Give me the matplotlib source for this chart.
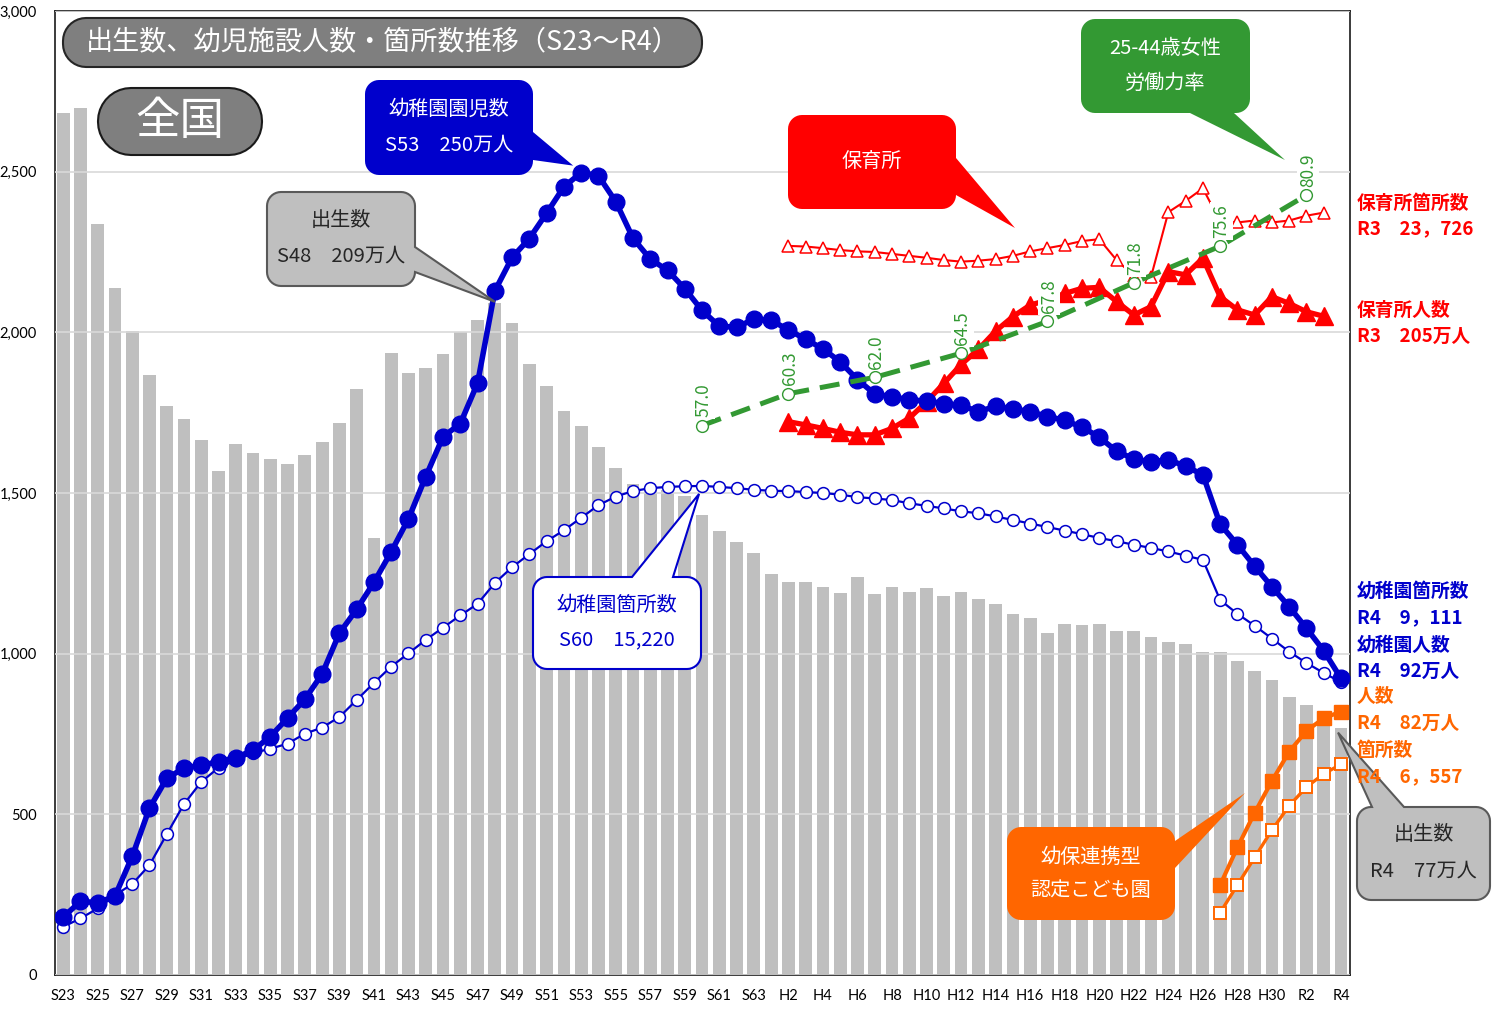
import numpy as np
import matplotlib
matplotlib.use("Agg")
import matplotlib.pyplot as plt
from matplotlib.patches import Polygon

plt.rcParams['font.family'] = ['Noto Sans CJK JP', 'DejaVu Sans']

W, H = 1498, 1011

# ---- categories: fiscal years S23 (1948) .. R4 (2022) ----
era_labels = ([f"S{n}" for n in range(23, 64)] +
              [f"H{n}" for n in range(1, 31)] +
              [f"R{n}" for n in range(1, 5)])

# births (thousand people)
births = [2682, 2697, 2338, 2138, 2005, 1868, 1770, 1731, 1665, 1567,
          1653, 1626, 1606, 1589, 1619, 1660, 1717, 1824, 1361, 1936,
          1872, 1890, 1934, 2001, 2039, 2092, 2030, 1901, 1833, 1755,
          1709, 1643, 1577, 1529, 1515, 1509, 1490, 1432, 1383, 1347,
          1314, 1247, 1222, 1223, 1209, 1188, 1238, 1187, 1207, 1192,
          1203, 1178, 1191, 1171, 1154, 1124, 1111, 1063, 1093, 1090,
          1091, 1070, 1071, 1051, 1037, 1030, 1004, 1006, 977, 946,
          918, 865, 841, 812, 770]

# kindergarten enrolment (thousand children)
kinder_children = [180, 229, 225, 245, 369, 519, 612, 644, 652, 664,
                   676, 700, 742, 800, 858, 937, 1064, 1138, 1222, 1317,
                   1420, 1551, 1675, 1716, 1842, 2129, 2233, 2292, 2371, 2453,
                   2497, 2487, 2407, 2293, 2228, 2193, 2136, 2068, 2019, 2016,
                   2041, 2037, 2008, 1978, 1949, 1908, 1853, 1808, 1799, 1790,
                   1786, 1778, 1773, 1753, 1770, 1761, 1753, 1738, 1726, 1705,
                   1674, 1630, 1606, 1596, 1604, 1583, 1557, 1403, 1339, 1272,
                   1208, 1146, 1079, 1009, 923]

# number of kindergartens (units of 10)
kinder_sites = [150, 176, 207, 248, 283, 342, 438, 532, 601, 645,
                668, 691, 704, 720, 751, 770, 803, 856, 909, 960,
                1001, 1043, 1081, 1119, 1155, 1220, 1269, 1310, 1350, 1384,
                1423, 1462, 1489, 1506, 1515, 1519, 1521, 1522, 1519, 1515,
                1510, 1507, 1506, 1503, 1500, 1495, 1487, 1483, 1478, 1468,
                1460, 1452, 1443, 1437, 1427, 1416, 1405, 1394, 1383, 1372,
                1360, 1350, 1339, 1329, 1318, 1305, 1292, 1167, 1124, 1087,
                1047, 1006, 971, 940, 911.1]

# nursery schools H2..R3 (sites in units of 10, children in thousands)
nursery_sites = [None] * 42 + [
    2269, 2267, 2262, 2256, 2252, 2250, 2244, 2238, 2232, 2225,
    2220, 2223, 2228, 2238, 2252, 2262, 2272, 2284, 2290, 2225,
    2176, 2173, 2374, 2409, 2448, 2345, 2342, 2348, 2342, 2348,
    2363, 2372.6] + [None]
nursery_children = [None] * 42 + [
    1722, 1712, 1701, 1689, 1681, 1681, 1701, 1733, 1784, 1841,
    1900, 1947, 2004, 2049, 2085, 2100, 2121, 2137, 2140, 2096,
    2054, 2080, 2189, 2179, 2231, 2111, 2070, 2054, 2111, 2090,
    2064, 2050] + [None]

# integrated kindergarten-nursery centres H27..R4
kodomoen_children = [None] * 67 + [280, 397, 505, 604, 695, 760, 799, 820]
kodomoen_sites = [None] * 67 + [194, 280, 366, 451, 527, 585, 626, 655.7]

# labour force participation rate of women aged 25-44 (%)
labor_years = ['S60', 'H2', 'H7', 'H12', 'H17', 'H22', 'H27', 'R2']
labor_rate = [57.0, 60.3, 62.0, 64.5, 67.8, 71.8, 75.6, 80.9]


def arr(v):
    return np.array([np.nan if a is None else a for a in v], dtype=float)


x = np.arange(len(era_labels))
BLUE = '#0000CC'
RED = '#FF0000'
ORANGE = '#FF6600'
GREEN = '#339933'

fig = plt.figure(figsize=(W / 100, H / 100), dpi=100)
ax = fig.add_axes([55 / W, (H - 975) / H, (1350 - 55) / W, (975 - 11) / H])

ax.bar(x, births, width=0.74, color='#BFBFBF', zorder=1)

ax.plot(x, arr(kinder_sites), color=BLUE, lw=1.6, marker='o', ms=8.5,
        mfc='white', mec=BLUE, mew=1.1, zorder=3)
ax.plot(x, arr(nursery_sites), color=RED, lw=1.5, marker='^', ms=8,
        mfc='white', mec=RED, mew=1.1, zorder=3.2)
ax.plot(x, arr(nursery_children), color=RED, lw=3.8, marker='^', ms=12.5,
        mfc=RED, mec=RED, zorder=3.4)
ax.plot(x, arr(kinder_children), color=BLUE, lw=4, marker='o', ms=12,
        mfc=BLUE, mec=BLUE, zorder=4)
ax.plot(x, arr(kodomoen_sites), color=ORANGE, lw=2.4, marker='s', ms=8.5,
        mfc='white', mec=ORANGE, mew=1.4, zorder=4.5)
ax.plot(x, arr(kodomoen_children), color=ORANGE, lw=3, marker='s', ms=9.5,
        mfc=ORANGE, mec=ORANGE, zorder=4.6)

ax.set_xlim(-0.47, 74.52)
ax.set_ylim(0, 3000)
ax.set_yticks(range(0, 3001, 500))
ax.set_yticklabels([f"{v:,}" for v in range(0, 3001, 500)],
                   fontfamily=['Lato', 'DejaVu Sans'], fontsize=10.5)
ax.set_xticks(x[::2])
ax.set_xticklabels(era_labels[::2], fontfamily=['Lato', 'DejaVu Sans'],
                   fontsize=10.5)
ax.tick_params(axis='y', length=0, pad=13)
ax.tick_params(axis='x', length=0, pad=10)
ax.set_axisbelow(False)
ax.yaxis.grid(True, color='#D9D9D9', lw=1.2)
for sp in ax.spines.values():
    sp.set_color('#1a1a1a')
    sp.set_linewidth(1.2)

# labour rate on its own 0-100 scale
ax2 = ax.twinx()
ax2.set_ylim(0, 100)
ax2.set_yticks([])
for sp in ax2.spines.values():
    sp.set_visible(False)
lx = np.array([era_labels.index(y) for y in labor_years])
ax2.plot(lx, labor_rate, color=GREEN, lw=3.6, ls=(0, (4, 2.2)),
         marker='o', ms=8.5, mfc='white', mec=GREEN, mew=1.0, zorder=5)
for xi, v in zip(lx, labor_rate):
    ax2.annotate(f"{v:.1f}", (xi, v), xytext=(1, 6), textcoords='offset points',
                 rotation=90, ha='center', va='bottom', color=GREEN, fontsize=12.5,
                 bbox=dict(boxstyle='square,pad=0.12', fc='white', ec='none'),
                 zorder=6)

# ---- overlay in pixel coordinates for boxes and callouts ----
ov = fig.add_axes([0, 0, 1, 1], zorder=10)
ov.set_xlim(0, W)
ov.set_ylim(H, 0)
ov.axis('off')


def to_px(xv, yv, dx=0, dy=0):
    px, py = ax.transData.transform((xv, yv))
    return (px + dx, H - py + dy)


def callout(x0, y0, x1, y1, r, side=None, base=None, tip=None, n=10):
    pts = []

    def arc(cx, cy, a0, a1):
        for a in np.linspace(np.radians(a0), np.radians(a1), n):
            pts.append((cx + r * np.cos(a), cy + r * np.sin(a)))

    pts.append((x0 + r, y0))
    if side == 'top':
        pts.extend([(base[0], y0), tip, (base[1], y0)])
    arc(x1 - r, y0 + r, -90, 0)
    if side == 'right':
        pts.extend([(x1, base[0]), tip, (x1, base[1])])
    arc(x1 - r, y1 - r, 0, 90)
    if side == 'bottom':
        pts.extend([(base[1], y1), tip, (base[0], y1)])
    arc(x0 + r, y1 - r, 90, 180)
    if side == 'left':
        pts.extend([(x0, base[1]), tip, (x0, base[0])])
    arc(x0 + r, y0 + r, 180, 270)
    return pts


def draw_box(pts, fc, ec='none', lw=1.5):
    ov.add_patch(Polygon(pts, closed=True, fc=fc, ec=ec, lw=lw, zorder=1))


def box_text(x0, x1, y, s, color, size=14.5):
    ov.text((x0 + x1) / 2, y, s, color=color, fontsize=size,
            ha='center', va='center', zorder=2)


# title and region label
draw_box(callout(63, 18, 702, 67, 23), '#7F7F7F', '#262626', 1.5)
box_text(63, 702, 42, '出生数、幼児施設人数・箇所数推移（S23～R4）', 'white', 19.5)
draw_box(callout(98, 88, 262, 155, 33), '#7F7F7F', '#1a1a1a', 1.5)
box_text(98, 262, 121, '全国', 'white', 32)

# kindergarten enrolment peak
i53 = era_labels.index('S53')
draw_box(callout(365, 80, 533, 175, 14, 'right', (132, 160),
                 to_px(i53, kinder_children[i53], -8, -7)), BLUE)
box_text(365, 533, 109, '幼稚園園児数', 'white')
box_text(365, 533, 145, f"S53　{round(kinder_children[i53] / 10)}万人", 'white')

# births peak S48
i48 = era_labels.index('S48')
draw_box(callout(267, 192, 415, 286, 14, 'right', (247, 272),
                 to_px(i48, births[i48], 0, -1)), '#BFBFBF', '#595959', 1.5)
box_text(267, 415, 221, '出生数', '#262626')
box_text(267, 415, 256, f"S48　{round(births[i48] / 10)}万人", '#262626')

# nursery
draw_box(callout(788, 115, 956, 209, 14, 'right', (158, 195), (1015, 228)), RED)
box_text(788, 956, 161, '保育所', 'white')

# labour rate
draw_box(callout(1081, 19, 1250, 113, 14, 'bottom', (1190, 1234), (1285, 160)), GREEN)
box_text(1081, 1250, 48, '25-44歳女性', 'white')
box_text(1081, 1250, 83, '労働力率', 'white')

# kindergarten sites peak S60
i60 = era_labels.index('S60')
draw_box(callout(533, 577, 701, 669, 14, 'top', (632, 673),
                 to_px(i60, kinder_sites[i60], -3, 8)), 'white', BLUE, 1.5)
box_text(533, 701, 605, '幼稚園箇所数', BLUE)
box_text(533, 701, 640, f"S60　{kinder_sites[i60] * 10:,.0f}", BLUE)

# integrated centres
draw_box(callout(1007, 827, 1175, 920, 14, 'right', (841, 868), (1245, 793)), ORANGE)
box_text(1007, 1175, 857, '幼保連携型', 'white')
box_text(1007, 1175, 890, '認定こども園', 'white')

# births R4
draw_box(callout(1357, 807, 1490, 900, 14, 'top', (1372, 1404),
                 to_px(74, births[74], -3, 5)), '#BFBFBF', '#595959', 1.5)
box_text(1357, 1490, 835, '出生数', '#262626')
box_text(1357, 1490, 871, f"R4　{round(births[74] / 10)}万人", '#262626')

# latest-value notes on the right
notes = [
    (203, '保育所箇所数', RED),
    (229, f"R3　{nursery_sites[73] * 10:,.0f}".replace(',', '，'), RED),
    (310, '保育所人数', RED),
    (336, f"R3　{round(nursery_children[73] / 10)}万人", RED),
    (591, '幼稚園箇所数', BLUE),
    (618, f"R4　{kinder_sites[74] * 10:,.0f}".replace(',', '，'), BLUE),
    (645, '幼稚園人数', BLUE),
    (671, f"R4　{round(kinder_children[74] / 10)}万人", BLUE),
    (697, '人数', ORANGE),
    (723, f"R4　{round(kodomoen_children[74] / 10)}万人", ORANGE),
    (750, '箇所数', ORANGE),
    (777, f"R4　{kodomoen_sites[74] * 10:,.0f}".replace(',', '，'), ORANGE),
]
for y, s, c in notes:
    ov.text(1357, y, s, color=c, fontsize=13.5, fontweight='bold',
            ha='left', va='center', zorder=3)

fig.savefig('out.png', dpi=100)
